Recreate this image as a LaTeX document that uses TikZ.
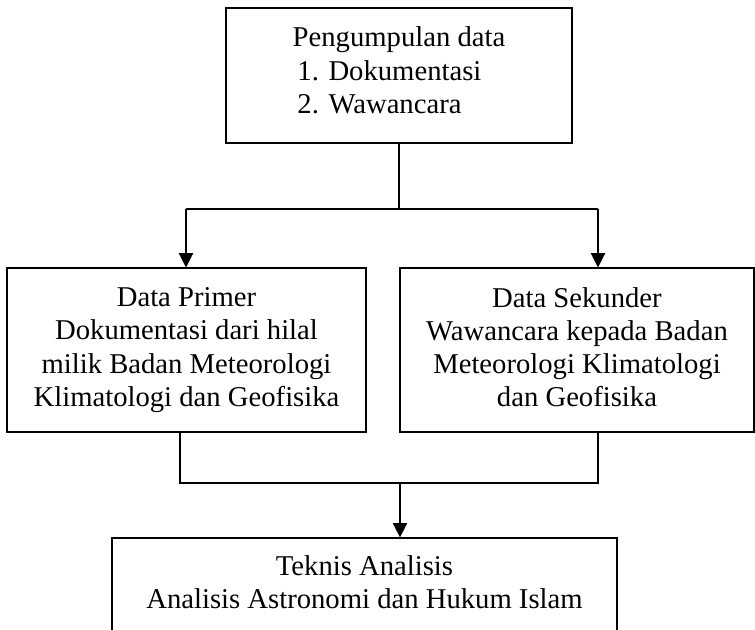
\documentclass[tikz,border=0pt]{standalone}
\usepackage{fontspec}
\setmainfont{Liberation Serif}
\usepackage{tikz}
\usetikzlibrary{arrows.meta}
\tikzset{kotak/.style={draw,line width=0.5pt,align=center,inner sep=0pt,font=\fontsize{12pt}{13.9pt}\selectfont},
  garis/.style={line width=0.5pt},
  panah/.style={garis,-{Triangle[width=6pt,length=6pt]}}}

\begin{document}
\begin{tikzpicture}[x=0.4186pt,y=-0.4186pt]
\useasboundingbox (0,0) rectangle (755,630);
\clip (0,0) rectangle (755,630);
\node[kotak,align=left,minimum width=144.8pt,minimum height=56.5pt,text depth=4.4pt] (pengumpulan) at (399,75.5)
  {Pengumpulan data\\\hspace{2pt}1. Dokumentasi\\\hspace{2pt}2. Wawancara};
\node[kotak,minimum width=150.3pt,minimum height=68.6pt] (primer) at (186.5,350)
  {Data Primer\\Dokumentasi dari hilal\\milik Badan Meteorologi\\Klimatologi dan Geofisika};
\node[kotak,minimum width=148.2pt,minimum height=68.6pt,text depth=2.6pt] (sekunder) at (577,350)
  {Data Sekunder\\Wawancara kepada Badan\\Meteorologi Klimatologi\\dan Geofisika};
\node[kotak,minimum width=211.4pt,minimum height=42.7pt,text depth=6.1pt] (analisis) at (364.5,589)
  {Teknis Analisis\\Analisis Astronomi dan Hukum Islam};
\coordinate (kiriAtas) at (186,209);
\coordinate (kananAtas) at (598,209);
\coordinate (kiriBawah) at (180,483);
\coordinate (kananBawah) at (598,483);
\coordinate (tengahBawah) at (400,483);
\draw[garis] (pengumpulan.south) -- (pengumpulan.south |- kiriAtas);
\draw[garis] (kiriAtas) -- (kananAtas);
\draw[panah] (kiriAtas) -- (kiriAtas |- primer.north);
\draw[panah] (kananAtas) -- (kananAtas |- sekunder.north);
\draw[garis] (kiriBawah |- primer.south) -- (kiriBawah) -- (kananBawah) -- (kananBawah |- sekunder.south);
\draw[panah] (tengahBawah) -- (tengahBawah |- analisis.north);
\end{tikzpicture}
\end{document}
